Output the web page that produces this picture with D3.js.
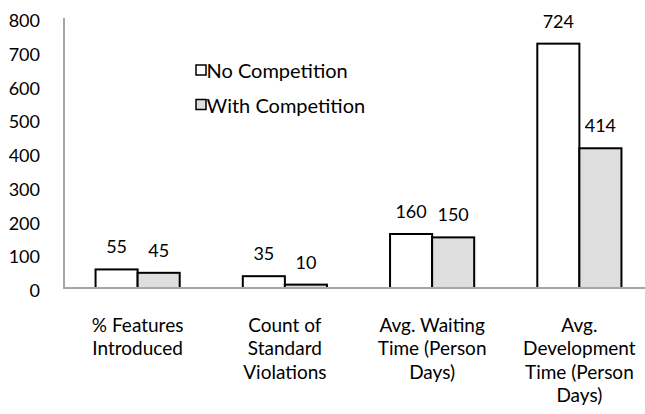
<!DOCTYPE html>
<html>
<head>
<meta charset="utf-8">
<script src="https://cdn.jsdelivr.net/npm/d3@7"></script>
<style>
  html, body { margin: 0; padding: 0; background: #fff; }
  svg { display: block; font-family: Lato, "Open Sans", sans-serif; }
</style>
</head>
<body>
<svg id="chart" width="645" height="414"></svg>
<script>
// Chart data
const categories = [
  ["% Features", "Introduced"],
  ["Count of", "Standard", "Violations"],
  ["Avg. Waiting", "Time (Person", "Days)"],
  ["Avg.", "Development", "Time (Person", "Days)"]
];
const seriesNames = ["No Competition", "With Competition"];
const noCompetition = [55, 35, 160, 724];
const withCompetition = [45, 10, 150, 414];
const yTicks = [0, 100, 200, 300, 400, 500, 600, 700, 800];

const fills = ["#ffffff", "#dedede"];
const values = [noCompetition, withCompetition];
const catKeys = categories.map((c, i) => i);

const svg = d3.select("#chart");

const x0 = d3.scaleBand().domain(catKeys).range([64, 653]).padding(0);
const x1 = d3.scaleBand().domain([0, 1]).range([0, x0.bandwidth()])
  .paddingInner(0).paddingOuter(0.75);
const y = d3.scaleLinear().domain([0, 800]).range([288, 18]);

// Y axis labels
svg.append("g").selectAll("text").data(yTicks).join("text")
  .attr("x", 40).attr("y", d => y(d) + 2)
  .attr("text-anchor", "end").attr("dominant-baseline", "central")
  .attr("font-size", 18).attr("fill", "#000")
  .text(d => d);

// Bars
const groups = svg.append("g").selectAll("g").data(catKeys).join("g")
  .attr("transform", d => `translate(${x0(d)},0)`);

groups.selectAll("rect").data(ci => [0, 1].map(s => ({ s, v: values[s][ci] })))
  .join("rect")
  .attr("x", d => x1(d.s))
  .attr("y", d => y(d.v))
  .attr("width", x1.bandwidth())
  .attr("height", d => y(0) - y(d.v))
  .attr("fill", d => fills[d.s])
  .attr("stroke", "#000").attr("stroke-width", 2);

// Value labels
groups.selectAll("text.val").data(ci => [0, 1].map(s => ({ s, v: values[s][ci] })))
  .join("text").attr("class", "val")
  .attr("x", d => x1(d.s) + x1.bandwidth() / 2)
  .attr("y", d => y(d.v) - 16)
  .attr("text-anchor", "middle")
  .attr("font-size", 18)
  .text(d => d.v);

// Axis lines
svg.append("line").attr("x1", 64).attr("x2", 64).attr("y1", 18).attr("y2", 289)
  .attr("stroke", "#a6a6a6").attr("stroke-width", 2);
svg.append("line").attr("x1", 63).attr("x2", 645).attr("y1", y(0)).attr("y2", y(0))
  .attr("stroke", "#a6a6a6").attr("stroke-width", 2);

// Category labels (wrapped)
const catText = svg.append("g").selectAll("text").data(catKeys).join("text")
  .attr("text-anchor", "middle")
  .attr("font-size", 19);
catText.each(function (ci) {
  const t = d3.select(this);
  const cx = x0(ci) + x0.bandwidth() / 2;
  categories[ci].forEach((line, li) => {
    t.append("tspan").attr("x", cx).attr("y", 332 + li * 23.4).text(line);
  });
});

// Legend
const legend = svg.append("g").selectAll("g").data(seriesNames).join("g")
  .attr("transform", (d, i) => `translate(196,${65 + i * 34.5})`);
legend.append("rect").attr("width", 10).attr("height", 10)
  .attr("fill", (d, i) => fills[i]).attr("stroke", "#000").attr("stroke-width", 1.5);
legend.append("text").attr("x", 10.5).attr("y", 13)
  .attr("font-size", 20).text(d => d);
</script>
</body>
</html>
